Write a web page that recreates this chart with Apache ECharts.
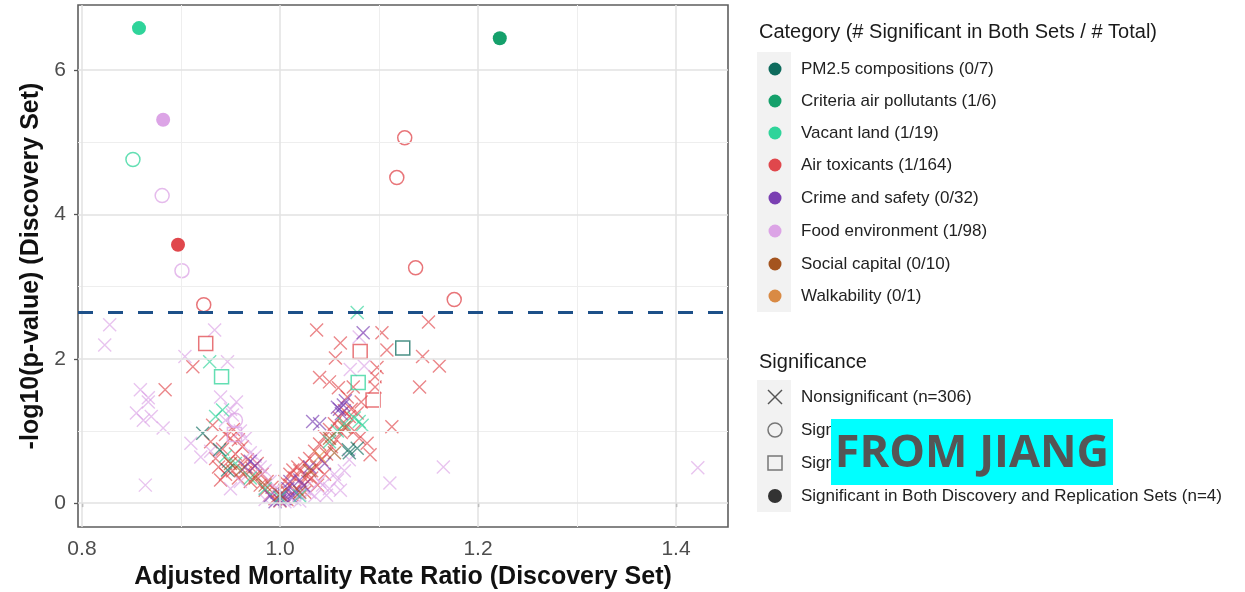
<!DOCTYPE html>
<html>
<head>
<meta charset="utf-8">
<script src="https://cdn.jsdelivr.net/npm/echarts@6/dist/echarts.min.js"></script>
<style>
  html, body { margin: 0; padding: 0; background: #fff; }
  #chart { width: 1245px; height: 592px; }
</style>
</head>
<body>
<div id="chart"></div>
<script>
// Volcano-style scatter: adjusted mortality rate ratio vs -log10(p), by exposure category.
const xTicks = [0.8, 1.0, 1.2, 1.4];
const xMinor = [0.9, 1.1, 1.3];
const yTicks = [0, 2, 4, 6];
const yMinor = [1, 3, 5];
const threshold = 2.64;

const categoryLabels = [
  'PM2.5 compositions (0/7)', 'Criteria air pollutants (1/6)', 'Vacant land (1/19)',
  'Air toxicants (1/164)', 'Crime and safety (0/32)', 'Food environment (1/98)',
  'Social capital (0/10)', 'Walkability (0/1)',
];
const significanceLabels = [
  'Nonsignificant (n=306)', 'Significant in Discovery Set Only',
  'Significant in Replication Set Only', 'Significant in Both Discovery and Replication Sets (n=4)',
];

// [rate ratio, -log10 p]
const pm25Cross = [[0.922, 0.97], [0.939, 0.74], [0.947, 0.46], [1.069, 0.74], [1.078, 0.76], [1.07, 0.7]];
const pm25Square = [[1.124, 2.15]];

const criteriaFilled = [[1.222, 6.44]];

const vacantCross = [[1.078, 2.64], [0.929, 1.96], [0.942, 1.29], [1.083, 1.08], [1.080, 1.13], [0.945, 0.65],
  [0.955, 0.55], [1.05, 0.85], [1.058, 1.0], [1.075, 1.18], [1.0, 0.08], [0.985, 0.2], [0.97, 0.35],
  [1.065, 1.1], [1.02, 0.1], [0.935, 1.2]];
const vacantCircle = [[0.8515, 4.76]];
const vacantSquare = [[0.941, 1.75], [1.079, 1.67]];
const vacantFilled = [[0.8576, 6.58]];

const airCross = [
  [0.884, 1.57], [0.912, 1.89], [0.932, 1.08], [0.940, 0.32], [1.037, 2.40], [1.061, 2.22], [1.103, 2.36],
  [1.108, 2.12], [1.150, 2.51], [1.144, 2.03], [1.161, 1.90], [1.056, 2.01], [1.098, 1.88], [1.040, 1.74],
  [1.050, 1.68], [1.059, 1.60], [1.074, 1.61], [1.096, 1.75], [1.096, 1.61], [1.141, 1.61], [1.068, 1.47],
  [1.113, 1.06], [1.078, 1.25], [1.088, 0.83], [1.091, 0.67], [1.082, 1.40], [1.072, 1.30],
  [0.93, 0.85], [0.935, 0.62], [0.938, 0.5], [0.942, 0.75], [0.945, 0.4], [0.948, 0.58], [0.95, 0.9],
  [0.952, 0.45], [0.955, 0.68], [0.958, 0.35], [0.96, 0.55], [0.962, 0.78], [0.965, 0.42], [0.967, 0.6],
  [0.97, 0.3], [0.972, 0.48], [0.975, 0.38], [0.977, 0.55], [0.98, 0.25], [0.982, 0.4], [0.985, 0.18],
  [0.987, 0.3], [0.99, 0.12], [0.992, 0.22], [0.995, 0.06], [0.997, 0.15], [0.945, 0.95], [0.953, 1.02],
  [0.958, 0.88],
  [1.0, 0.03], [1.002, 0.1], [1.005, 0.18], [1.007, 0.05], [1.01, 0.25], [1.012, 0.12], [1.015, 0.35],
  [1.017, 0.2], [1.02, 0.45], [1.022, 0.28], [1.025, 0.55], [1.027, 0.38], [1.03, 0.62], [1.032, 0.45],
  [1.035, 0.72], [1.037, 0.5], [1.04, 0.82], [1.042, 0.6], [1.045, 0.92], [1.047, 0.68], [1.05, 1.02],
  [1.052, 0.78], [1.055, 1.1], [1.057, 0.88], [1.06, 1.18], [1.062, 0.98], [1.065, 1.28], [1.067, 1.05],
  [1.07, 1.2], [1.075, 1.0], [1.08, 0.9], [1.013, 0.46], [1.032, 0.35], [1.018, 0.5], [1.028, 0.3],
  [1.038, 0.25], [1.01, 0.4], [1.025, 0.15], [1.045, 0.4], [1.005, 0.3],
];
const airCircle = [[0.923, 2.75], [1.126, 5.06], [1.118, 4.51], [1.137, 3.26], [1.176, 2.82]];
const airSquare = [[0.925, 2.21], [1.081, 2.10], [1.094, 1.43]];
const airFilled = [[0.897, 3.58]];

const crimeCross = [[1.084, 2.36], [1.064, 1.36], [1.060, 1.30], [1.066, 1.42], [1.062, 1.24], [1.058, 1.33],
  [1.033, 1.13], [1.0, 0.04], [1.004, 0.12], [1.008, 0.2], [1.012, 0.08], [0.975, 0.52], [0.97, 0.58],
  [1.02, 0.32], [1.024, 0.24], [1.045, 0.55], [0.995, 0.02], [1.015, 0.15], [1.03, 0.5], [1.005, 0.06],
  [0.965, 0.5], [1.04, 1.1], [1.01, 0.3], [0.99, 0.1]];

const foodCross = [
  [0.828, 2.47], [0.823, 2.19], [0.859, 1.57], [0.867, 1.46], [0.904, 2.03], [0.934, 2.40], [0.947, 1.96],
  [0.940, 1.47], [0.956, 1.40], [0.867, 1.40], [0.862, 1.15], [0.882, 1.04], [0.864, 0.25], [0.910, 0.83],
  [0.920, 0.64], [1.165, 0.50], [1.422, 0.49], [1.111, 0.28], [1.058, 0.32], [1.061, 0.18], [1.047, 0.11],
  [1.043, 0.25], [1.071, 1.85], [0.855, 1.25], [0.87, 1.2], [0.95, 1.3], [0.945, 1.15], [0.952, 1.22],
  [0.93, 0.72], [0.96, 1.0], [0.965, 0.9], [0.97, 0.7], [0.975, 0.65], [0.98, 0.5], [0.985, 0.45],
  [0.99, 0.3], [0.995, 0.2], [1.0, 0.1], [1.005, 0.02], [1.01, 0.08], [1.015, 0.05], [1.02, 0.12],
  [1.025, 0.2], [1.03, 0.15], [1.035, 0.1], [1.04, 0.3], [1.05, 0.2], [1.055, 0.4], [1.065, 0.45],
  [1.07, 0.6], [1.08, 2.3], [1.085, 1.9], [1.02, 0.03], [0.985, 0.05], [0.96, 0.3], [0.95, 0.2],
];
const foodCircle = [[0.881, 4.26], [0.901, 3.22], [0.955, 1.15]];
const foodSquare = [[0.954, 0.95]];
const foodFilled = [[0.882, 5.31]];

const socialCross = [[0.95, 0.55], [0.96, 0.45], [0.985, 0.25], [1.03, 0.45], [1.05, 0.9], [1.055, 0.7],
  [1.065, 1.05], [1.02, 0.15], [1.0, 0.12], [0.975, 0.35]];
const walkCross = [[1.04, 0.65]];

const COLORS = ['#0e6b5d', '#15a06b', '#2fd49a', '#e0474c', '#7a3fb2', '#dca4e6', '#a4541f', '#d98a44'];
const [C_PM, C_CRIT, C_VAC, C_AIR, C_CRIME, C_FOOD, C_SOC, C_WALK] = COLORS;

const CROSS = 'path://M0,0L10,10M10,0L0,10';
const FONT = '"Liberation Sans", Arial, sans-serif';

function pts(data, color, shape) {
  const base = { type: 'scatter', data, silent: true, emphasis: { disabled: true } };
  if (shape === 'cross') {
    return { ...base, symbol: CROSS, symbolSize: 13, z: 3,
      itemStyle: { color: 'transparent', borderColor: color, borderWidth: 1.4, opacity: 0.65 } };
  }
  if (shape === 'circle' || shape === 'square') {
    return { ...base, symbol: shape === 'circle' ? 'circle' : 'rect', symbolSize: 14, z: 4,
      itemStyle: { color: 'transparent', borderColor: color, borderWidth: 1.5, opacity: 0.75 } };
  }
  return { ...base, symbol: 'circle', symbolSize: 14, z: 5, itemStyle: { color, opacity: 1 } };
}

const gridLine = (color, width) => ({ color, width, type: 'solid' });

const series = [
  // grid lines drawn through the axes' own scales
  {
    type: 'scatter', data: [], z: 1, silent: true,
    markLine: {
      silent: true, symbol: 'none', animation: false, label: { show: false },
      data: [
        ...xMinor.map(v => ({ xAxis: v, lineStyle: gridLine('#eeeeee', 1) })),
        ...yMinor.map(v => ({ yAxis: v, lineStyle: gridLine('#eeeeee', 1) })),
        ...xTicks.map(v => ({ xAxis: v, lineStyle: gridLine('#e2e2e2', 1.5) })),
        ...yTicks.map(v => ({ yAxis: v, lineStyle: gridLine('#e2e2e2', 1.5) })),
      ],
    },
  },
  pts(airCross, C_AIR, 'cross'),
  pts(foodCross, C_FOOD, 'cross'),
  pts(crimeCross, C_CRIME, 'cross'),
  pts(vacantCross, C_VAC, 'cross'),
  pts(pm25Cross, C_PM, 'cross'),
  pts(socialCross, C_SOC, 'cross'),
  pts(walkCross, C_WALK, 'cross'),
  pts(airCircle, C_AIR, 'circle'),
  pts(foodCircle, C_FOOD, 'circle'),
  pts(vacantCircle, C_VAC, 'circle'),
  pts(airSquare, C_AIR, 'square'),
  pts(foodSquare, C_FOOD, 'square'),
  pts(vacantSquare, C_VAC, 'square'),
  pts(pm25Square, C_PM, 'square'),
  pts(airFilled, C_AIR, 'filled'),
  pts(foodFilled, C_FOOD, 'filled'),
  pts(vacantFilled, C_VAC, 'filled'),
  pts(criteriaFilled, C_CRIT, 'filled'),
  {
    type: 'scatter', data: [], z: 6, silent: true,
    markLine: {
      silent: true, symbol: 'none', animation: false, label: { show: false },
      lineStyle: { color: '#1d5089', width: 3, type: [15, 15] },
      data: [{ yAxis: threshold }],
    },
  },
];

// legend drawn as graphic (two stacked ggplot-style keys)
const LX = 759, KEY_X = 775, TXT_X = 801;
const catY = [69, 101, 133, 165, 198, 231, 264, 296];
const sigY = [397, 430, 463, 496];
const label = (text, x, y, size, color) => ({
  type: 'text', x, y,
  style: { text, fill: color, font: `${size}px ${FONT}`, verticalAlign: 'middle' },
});
const legendGraphics = [
  label('Category (# Significant in Both Sets / # Total)', LX, 32, 20, '#1a1a1a'),
  { type: 'rect', shape: { x: 757, y: 52, width: 34, height: 260 }, style: { fill: '#f2f2f2' } },
  ...categoryLabels.flatMap((t, i) => [
    { type: 'circle', shape: { cx: KEY_X, cy: catY[i], r: 6.5 }, style: { fill: COLORS[i] } },
    label(t, TXT_X, catY[i], 17, '#222'),
  ]),
  label('Significance', LX, 362, 20, '#1a1a1a'),
  { type: 'rect', shape: { x: 757, y: 380, width: 34, height: 132 }, style: { fill: '#f2f2f2' } },
  { type: 'line', shape: { x1: KEY_X - 7, y1: sigY[0] - 7, x2: KEY_X + 7, y2: sigY[0] + 7 }, style: { stroke: '#555', lineWidth: 1.4 } },
  { type: 'line', shape: { x1: KEY_X - 7, y1: sigY[0] + 7, x2: KEY_X + 7, y2: sigY[0] - 7 }, style: { stroke: '#555', lineWidth: 1.4 } },
  { type: 'circle', shape: { cx: KEY_X, cy: sigY[1], r: 7 }, style: { fill: 'transparent', stroke: '#777', lineWidth: 1.5 } },
  { type: 'rect', shape: { x: KEY_X - 7, y: sigY[2] - 7, width: 14, height: 14 }, style: { fill: 'transparent', stroke: '#777', lineWidth: 1.5 } },
  { type: 'circle', shape: { cx: KEY_X, cy: sigY[3], r: 7 }, style: { fill: '#333' } },
  ...significanceLabels.map((t, i) => label(t, TXT_X, sigY[i], 17, '#222')),
  // stamp over the legend
  { type: 'rect', shape: { x: 831, y: 419, width: 282, height: 66 }, style: { fill: '#00ffff' }, z: 10 },
  {
    type: 'text', x: 972, y: 454, z: 11,
    style: { text: 'FROM JIANG', fill: '#555555', font: 'bold 45px "Open Sans", "Noto Sans", sans-serif',
      align: 'center', verticalAlign: 'middle' },
  },
];

const chart = echarts.init(document.getElementById('chart'), null, { renderer: 'canvas' });
chart.setOption({
  animation: false,
  backgroundColor: '#ffffff',
  textStyle: { fontFamily: FONT },
  grid: {
    left: 78, top: 5, width: 650, height: 522, containLabel: false, outerBoundsMode: 'none',
    show: true, backgroundColor: '#ffffff', borderColor: '#5e5e5e', borderWidth: 1.6,
  },
  xAxis: {
    type: 'value', min: 0.796, max: 1.4525,
    name: 'Adjusted Mortality Rate Ratio (Discovery Set)', nameLocation: 'middle', nameGap: 38,
    nameTextStyle: { fontSize: 25, fontWeight: 'bold', color: '#111' },
    axisLine: { show: false },
    axisTick: { show: true, customValues: xTicks, length: 4, lineStyle: { color: '#555', width: 1.3 } },
    axisLabel: { customValues: xTicks, formatter: v => v.toFixed(1), fontSize: 21, color: '#4d4d4d', margin: 12 },
    splitLine: { show: false },
  },
  yAxis: {
    type: 'value', min: -0.33, max: 6.9,
    name: '-log10(p-value) (Discovery Set)', nameLocation: 'middle', nameGap: 30,
    nameTextStyle: { fontSize: 25, fontWeight: 'bold', color: '#111' },
    axisLine: { show: false },
    axisTick: { show: true, customValues: yTicks, length: 4, lineStyle: { color: '#555', width: 1.3 } },
    axisLabel: { customValues: yTicks, formatter: v => String(v), fontSize: 21, color: '#4d4d4d', margin: 12 },
    splitLine: { show: false },
  },
  series,
  graphic: { elements: legendGraphics },
});
</script>
</body>
</html>
